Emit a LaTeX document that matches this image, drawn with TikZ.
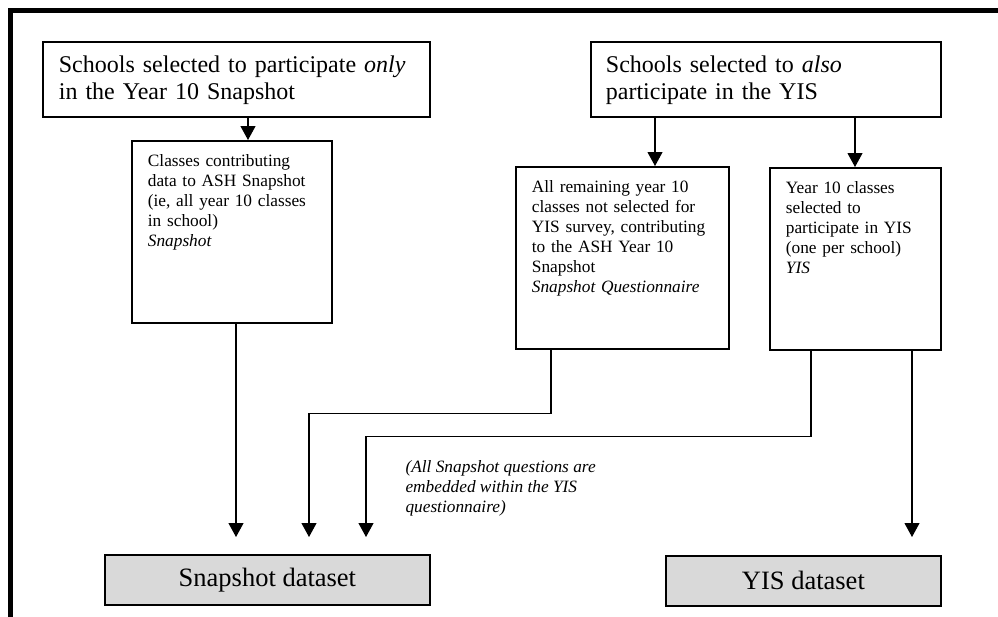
\documentclass[tikz,border=0pt]{standalone}
\usepackage{fontspec}
\setmainfont{Liberation Serif}
\usetikzlibrary{arrows.meta, positioning, calc}
\definecolor{dataGray}{HTML}{D9D9D9}
\tikzset{
  arrowK/.style={-{Triangle[length=14pt,width=15pt]}, line width=1.1pt},
  boxTop/.style={rectangle, draw, line width=1.8pt, align=left, anchor=north west,
                 font=\fontsize{24}{27}\selectfont, inner xsep=16pt, inner ysep=11pt,
                 text height=20pt, text depth=33pt},
  boxClass/.style={rectangle, draw, line width=1.8pt, align=left, anchor=north west,
                   font=\fontsize{17.3}{20}\selectfont, inner xsep=16pt, inner ysep=12pt,
                   text height=14pt, text depth=144pt},
  boxData/.style={rectangle, draw, line width=1.8pt, fill=dataGray, anchor=north west,
                  font=\fontsize{26.5}{30}\selectfont, inner sep=0pt, minimum height=50pt},
}
\begin{document}
\begin{tikzpicture}[x=1pt, y=-1pt]
    \useasboundingbox (0,0) rectangle (998,616);
    \draw[line width=5pt] (10.5,620) -- (10.5,10.5) -- (1004,10.5);
    % top row
    \node[boxTop, text width=355pt] (only) at (42,41) {Schools selected to participate \textit{only}\\in the Year 10 Snapshot};
    \node[boxTop, text width=320pt, inner xsep=15pt] (also) at (590,41) {Schools selected to \textit{also}\\participate in the YIS};
    % classes
    \node[boxClass, text width=168pt] (snapcls) at (131,140) {Classes contributing\\data to ASH Snapshot\\(ie, all year 10 classes\\in school)\\\textit{Snapshot}};
    \node[boxClass, text width=181pt] (restcls) at (515,166) {All remaining year 10\\classes not selected for\\YIS survey, contributing\\to the ASH Year 10\\Snapshot\\\textit{Snapshot Questionnaire}};
    \node[boxClass, text width=139pt] (yiscls) at (769,167) {Year 10 classes\\selected to\\participate in YIS\\(one per school)\\\textit{YIS}};
    % datasets
    \node[boxData, minimum width=325pt] (snapdata) at (104,554) {Snapshot dataset};
    \node[boxData, minimum width=275pt] (yisdata) at (665,555) {YIS dataset};
    \node[anchor=base west, align=left, font=\fontsize{17.3}{20}\selectfont\itshape] (embed) at (402,512) {(All Snapshot questions are\\embedded within the YIS\\questionnaire)};
    % connectors
    \draw[arrowK] (only.south -| 248,0) -- (snapcls.north -| 248,0);
    \draw[arrowK] (also.south -| 655,0) -- (restcls.north -| 655,0);
    \draw[arrowK] (also.south -| 855,0) -- (yiscls.north -| 855,0);
    \draw[arrowK] (snapcls.south -| 236,0) -- ($(snapdata.north -| 236,0)+(0,-17)$);
    \draw[arrowK] (restcls.south -| 551,0) -- ++(0,64) -| ($(snapdata.north -| 309,0)+(0,-17)$);
    \draw[arrowK] (yiscls.south -| 811,0) -- ++(0,86) -| ($(snapdata.north -| 366,0)+(0,-17)$);
    \draw[arrowK] (yiscls.south -| 912,0) -- ($(yisdata.north -| 912,0)+(0,-18)$);
\end{tikzpicture}
\end{document}
